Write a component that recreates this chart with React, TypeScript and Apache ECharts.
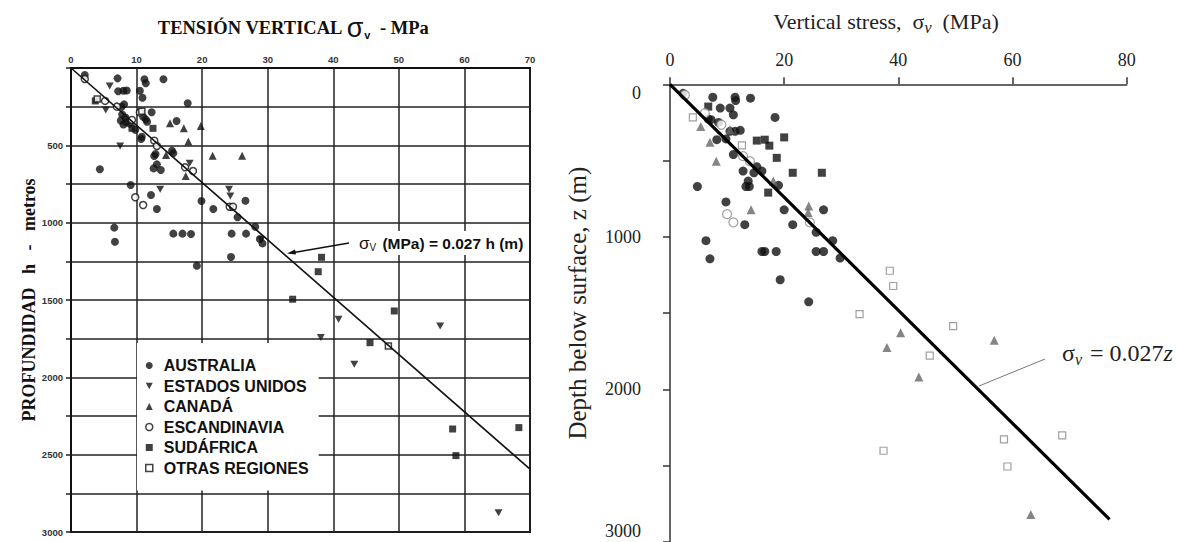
import React, { useEffect, useRef } from 'react';
import * as echarts from 'echarts';

// ---------- LEFT CHART DATA (sigma MPa, depth m) ----------
const ausL: number[][] = [[2.1,45],[7.1,67],[11.2,73],[11.4,99],[14.1,73],[7.2,150],[8.0,147],[8.5,145],[10.5,147],[10.9,192],[17.8,228],[8.1,235],[7.7,250],[12.3,286],[7.8,300],[8.3,320],[7.6,340],[8.4,350],[8.0,365],[9.0,360],[9.8,400],[11.0,315],[11.4,332],[11.6,347],[16.1,343],[10.8,444],[10.7,459],[12.9,556],[12.7,569],[15.4,535],[15.6,551],[4.4,655],[13.1,623],[12.6,649],[13.7,659],[9.1,756],[12.2,821],[13.1,912],[19.9,860],[21.7,912],[26.6,858],[25.4,965],[28.1,1026],[28.8,1106],[29.2,1134],[6.6,1032],[6.7,1123],[15.6,1071],[17.0,1071],[18.3,1073],[24.5,1071],[26.7,1071],[24.4,1222],[19.2,1278]];
const usaL: number[][] = [[5.9,116],[5.3,272],[7.5,504],[13.6,784],[24.1,784],[24.3,828],[18.1,616],[29.0,1110],[40.8,1625],[38.1,1743],[43.2,1916],[56.3,1668],[65.2,2875]];
const canL: number[][] = [[15.1,358],[17.2,390],[19.8,375],[17.9,476],[21.6,567],[26.1,567],[17.5,698],[14.5,562]];
const escL: number[][] = [[2.1,71],[5.2,213],[7.0,250],[10.5,287],[12.7,470],[13.1,504],[17.4,642],[18.6,666],[9.8,836],[11.0,886],[24.2,897],[24.7,897],[9.3,336]];
const sudL: number[][] = [[3.7,213],[9.3,390],[12.5,390],[33.8,1495],[38.2,1224],[37.7,1317],[49.3,1571],[45.6,1776],[58.2,2334],[68.3,2325],[58.7,2506]];
const otrL: number[][] = [[48.4,1797],[10.8,280],[4.0,200]];
const fitL: number[][] = [[0,0],[70,2593]];

// ---------- RIGHT CHART DATA (sigma MPa, depth m) ----------
const ausR: number[][] = [[2.3,59],[7.5,85],[11.4,85],[11.5,107],[14.1,91],[8.8,156],[10.5,156],[11.1,200],[18.4,217],[6.7,228],[7.2,232],[8.5,250],[10.5,308],[11.4,308],[12.3,302],[8.2,363],[9.8,358],[11.1,460],[12.8,569],[15.2,540],[16.1,569],[14.7,580],[13.7,634],[13.3,670],[13.9,670],[4.8,670],[19.0,662],[9.8,771],[13.1,920],[20.0,823],[21.5,920],[26.9,823],[25.6,970],[28.5,1025],[29.8,1139],[6.3,1025],[7.0,1144],[16.1,1096],[16.6,1096],[18.6,1096],[25.6,1096],[26.9,1096],[19.3,1281],[24.3,1426]];
const sudR: number[][] = [[6.7,146],[15.2,369],[16.6,363],[17.4,402],[20.0,348],[18.7,482],[21.5,580],[26.6,580],[17.2,710]];
const canR: number[][] = [[5.4,276],[7.0,380],[8.1,504],[14.2,823],[18.1,634],[24.3,797],[24.2,840],[10.5,298],[40.4,1628],[38.0,1725],[43.6,1918],[56.8,1678],[63.2,2819]];
const escR: number[][] = [[2.6,70],[6.1,189],[9.0,265],[12.8,471],[14.0,504],[10.0,851],[11.1,905],[24.5,905]];
const otrR: number[][] = [[4.0,217],[12.6,400],[38.5,1222],[39.1,1322],[33.2,1506],[45.5,1778],[37.4,2402],[49.6,1585],[58.5,2327],[68.7,2301],[59.1,2505]];
const fitR: number[][] = [[0,0],[77,2852]];

const legendNames = ['AUSTRALIA', 'ESTADOS UNIDOS', 'CANADÁ', 'ESCANDINAVIA', 'SUDÁFRICA', 'OTRAS REGIONES'];

const DOWN = 'path://M0,0L10,0L5,9Z';

export default function App() {
  const ref = useRef<HTMLDivElement>(null);
  useEffect(() => {
    const chart = echarts.init(ref.current!, null, { renderer: 'svg' });
    const sansB = { fontFamily: 'Liberation Sans', fontWeight: 'bold' as const };
    const serif = 'Liberation Serif';
    const option: any = {
      animation: false,
      backgroundColor: '#fff',
      grid: [
        { left: 71, top: 68, width: 459, height: 464, show: true, borderColor: '#111', borderWidth: 2, backgroundColor: 'transparent' },
        { left: 670, top: 84.3, width: 456.7, height: 460.7 },
      ],
      xAxis: [
        {
          gridIndex: 0, type: 'value', position: 'top', min: 0, max: 70, interval: 10,
          axisLine: { show: true, lineStyle: { color: '#111', width: 2 } },
          axisTick: { show: false },
          splitLine: { show: true, lineStyle: { color: '#222', width: 1.5 } },
          axisLabel: { ...sansB, fontSize: 9.5, color: '#333', margin: 4 },
        },
        {
          gridIndex: 1, type: 'value', position: 'top', min: 0, max: 80, interval: 20,
          axisLine: { show: true, onZero: false, lineStyle: { color: '#333', width: 1.5 } },
          axisTick: { show: true, length: 7, lineStyle: { color: '#333', width: 1.5 } },
          splitLine: { show: false },
          axisLabel: { fontFamily: serif, fontSize: 18, color: '#222', margin: 15 },
        },
      ],
      yAxis: [
        {
          gridIndex: 0, type: 'value', inverse: true, min: 0, max: 3000, interval: 250,
          axisLine: { show: true, lineStyle: { color: '#111', width: 2 } },
          axisTick: { show: true, length: 5, lineStyle: { color: '#222', width: 1.5 } },
          splitLine: { show: true, lineStyle: { color: '#222', width: 1.5 } },
          axisLabel: { ...sansB, fontSize: 9.5, color: '#333', margin: 8, formatter: (v: number) => (v % 500 === 0 && v > 0 ? String(v) : '') },
          name: 'PROFUNDIDAD   h   -   metros', nameLocation: 'middle', nameRotate: 90, nameGap: 30,
          nameTextStyle: { fontFamily: serif, fontWeight: 'bold', fontSize: 18, color: '#111' },
        },
        {
          gridIndex: 1, type: 'value', inverse: true, min: 0, max: 3000, interval: 500,
          axisLine: { show: true, onZero: false, lineStyle: { color: '#333', width: 1.5 } },
          axisTick: { show: true, length: 7, lineStyle: { color: '#333', width: 1.5 } },
          splitLine: { show: false },
          axisLabel: {
            fontFamily: serif, fontSize: 18, color: '#222', margin: 29,
            formatter: (v: number) => {
              if (v === 0) return '{a|0}';
              if (v === 3000) return '{b|3000}';
              return v % 1000 === 0 ? String(v) : '';
            },
            rich: {
              a: { fontFamily: serif, fontSize: 18, color: '#222', padding: [18, 0, 0, 0] },
              b: { fontFamily: serif, fontSize: 18, color: '#222', padding: [0, 0, 22, 0] },
            },
          },
          name: 'Depth below surface, z (m)', nameLocation: 'middle', nameRotate: 90, nameGap: 80,
          nameTextStyle: { fontFamily: serif, fontSize: 25, color: '#222', padding: [0, 0, 0, 20] },
        },
      ],
      legend: {
        orient: 'vertical', left: 137, top: 343, padding: [14, 10, 14, 8],
        backgroundColor: '#fff', itemWidth: 7, itemHeight: 7, itemGap: 3.5,
        selectedMode: false,
        textStyle: { ...sansB, fontSize: 16, color: '#111', lineHeight: 17, padding: [0, 0, 0, 6] },
        data: [
          { name: legendNames[0], icon: 'circle', itemStyle: { color: '#111' } },
          { name: legendNames[1], icon: DOWN, itemStyle: { color: '#111' } },
          { name: legendNames[2], icon: 'triangle', itemStyle: { color: '#111' } },
          { name: legendNames[3], icon: 'circle', itemStyle: { color: '#fff', borderColor: '#111', borderWidth: 1.5 } },
          { name: legendNames[4], icon: 'rect', itemStyle: { color: '#111' } },
          { name: legendNames[5], icon: 'rect', itemStyle: { color: '#fff', borderColor: '#111', borderWidth: 1.5 } },
        ],
      },
      series: [
        { name: legendNames[0], type: 'scatter', xAxisIndex: 0, yAxisIndex: 0, data: ausL, symbol: 'circle', symbolSize: 8, itemStyle: { color: '#111' } },
        { name: legendNames[1], type: 'scatter', xAxisIndex: 0, yAxisIndex: 0, data: usaL, symbol: DOWN, symbolSize: [8, 7], itemStyle: { color: '#111' } },
        { name: legendNames[2], type: 'scatter', xAxisIndex: 0, yAxisIndex: 0, data: canL, symbol: 'triangle', symbolSize: 8, itemStyle: { color: '#111' } },
        { name: legendNames[3], type: 'scatter', xAxisIndex: 0, yAxisIndex: 0, data: escL, symbol: 'circle', symbolSize: 7, itemStyle: { color: '#fff', borderColor: '#111', borderWidth: 1.5 } },
        { name: legendNames[4], type: 'scatter', xAxisIndex: 0, yAxisIndex: 0, data: sudL, symbol: 'rect', symbolSize: 7, itemStyle: { color: '#111' } },
        { name: legendNames[5], type: 'scatter', xAxisIndex: 0, yAxisIndex: 0, data: otrL, symbol: 'rect', symbolSize: 6, itemStyle: { color: '#fff', borderColor: '#111', borderWidth: 1.5 } },
        { name: 'fitL', type: 'line', xAxisIndex: 0, yAxisIndex: 0, data: fitL, symbol: 'none', lineStyle: { color: '#111', width: 1.6 }, z: 3 },

        { name: 'Australia', type: 'scatter', xAxisIndex: 1, yAxisIndex: 1, data: ausR, symbol: 'circle', symbolSize: 9, itemStyle: { color: '#111' } },
        { name: 'South Africa', type: 'scatter', xAxisIndex: 1, yAxisIndex: 1, data: sudR, symbol: 'rect', symbolSize: 8, itemStyle: { color: '#111' } },
        { name: 'Canada', type: 'scatter', xAxisIndex: 1, yAxisIndex: 1, data: canR, symbol: 'triangle', symbolSize: 9, itemStyle: { color: '#666' } },
        { name: 'Scandinavia', type: 'scatter', xAxisIndex: 1, yAxisIndex: 1, data: escR, symbol: 'circle', symbolSize: 9, itemStyle: { color: '#fff', borderColor: '#888', borderWidth: 1.2 } },
        { name: 'Other regions', type: 'scatter', xAxisIndex: 1, yAxisIndex: 1, data: otrR, symbol: 'rect', symbolSize: 7, itemStyle: { color: '#fff', borderColor: '#888', borderWidth: 1.2 } },
        { name: 'fitR', type: 'line', xAxisIndex: 1, yAxisIndex: 1, data: fitR, symbol: 'none', lineStyle: { color: '#000', width: 3.2 }, z: 4 },
      ],
      graphic: [
        {
          type: 'text', x: 293, y: 28, z: 10,
          style: {
            text: '{a|TENSIÓN VERTICAL }{s|σ}{v|v}{a| - MPa}', align: 'center', verticalAlign: 'middle',
            rich: {
              a: { fontFamily: serif, fontWeight: 'bold', fontSize: 18.5, fill: '#111' },
              s: { fontFamily: 'Liberation Sans', fontSize: 27, fill: '#111' },
              v: { fontFamily: 'Liberation Sans', fontWeight: 'bold', fontSize: 11, fill: '#111', padding: [13, 5, 0, 1] },
            },
          },
        },
        {
          type: 'text', x: 357, y: 243, z: 10,
          style: {
            text: '{s|σ}{v|V}{a| (MPa) = 0.027 h (m)}', align: 'left', verticalAlign: 'middle',
            backgroundColor: '#fff', padding: [3, 2, 3, 2],
            rich: {
              a: { fontFamily: 'Liberation Sans', fontWeight: 'bold', fontSize: 15.5, fill: '#111' },
              s: { fontFamily: 'Liberation Sans', fontSize: 17, fill: '#111' },
              v: { fontFamily: 'Liberation Sans', fontSize: 10, fill: '#111', padding: [8, 2, 0, 0] },
            },
          },
        },
        { type: 'line', z: 10, shape: { x1: 349, y1: 243, x2: 291, y2: 253 }, style: { stroke: '#111', lineWidth: 1.3 } },
        { type: 'polygon', z: 10, shape: { points: [[287, 253.5], [295, 249.5], [296, 254.5]] }, style: { fill: '#111' } },
        {
          type: 'text', x: 886, y: 21, z: 10,
          style: {
            text: '{a|Vertical stress,  }{s|σ}{v|v}{a|  (MPa)}', align: 'center', verticalAlign: 'middle',
            rich: {
              a: { fontFamily: serif, fontSize: 22, fill: '#222' },
              s: { fontFamily: serif, fontSize: 22, fill: '#222' },
              v: { fontFamily: serif, fontStyle: 'italic', fontSize: 16, fill: '#222', padding: [12, 0, 0, 0] },
            },
          },
        },
        {
          type: 'text', x: 1062, y: 353, z: 10,
          style: {
            text: '{s|σ}{v|v}{a| = 0.027}{z|z}', align: 'left', verticalAlign: 'middle',
            rich: {
              a: { fontFamily: serif, fontSize: 24, fill: '#222' },
              s: { fontFamily: serif, fontSize: 24, fill: '#222' },
              v: { fontFamily: serif, fontStyle: 'italic', fontSize: 16, fill: '#222', padding: [13, 2, 0, 0] },
              z: { fontFamily: serif, fontStyle: 'italic', fontSize: 24, fill: '#222' },
            },
          },
        },
        { type: 'line', z: 10, shape: { x1: 1045, y1: 359, x2: 979, y2: 386 }, style: { stroke: '#777', lineWidth: 1 } },
      ],
    };
    chart.setOption(option);
    return () => chart.dispose();
  }, []);
  return <div ref={ref} style={{ position: 'fixed', left: 0, top: 0, width: 1177, height: 542, background: '#fff' }} />;
}
